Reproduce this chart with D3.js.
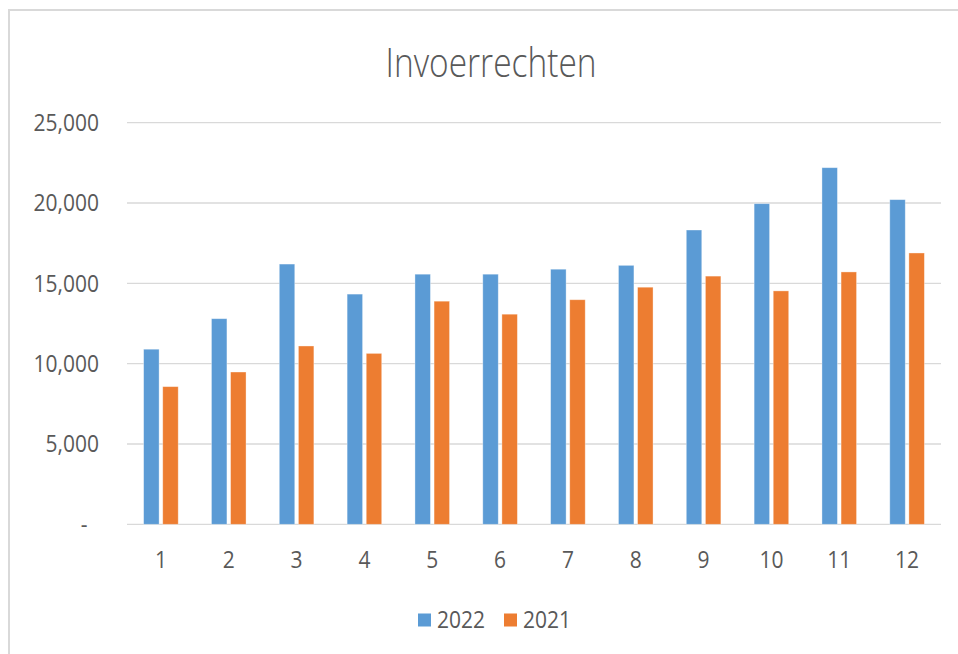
<!DOCTYPE html>
<html>
<head>
<meta charset="utf-8">
<script src="https://cdn.jsdelivr.net/npm/d3@7/dist/d3.min.js"></script>
<style>
  html, body { margin: 0; padding: 0; background: #fff; }
  svg { display: block; }
  text { font-family: "Open Sans", "Noto Sans", sans-serif; fill: #595959; }
</style>
</head>
<body>
<svg id="chart" width="958" height="654"></svg>
<script>
const months = ["1","2","3","4","5","6","7","8","9","10","11","12"];
const seriesNames = ["2022","2021"];
const values2022 = [10900, 12800, 16200, 14330, 15570, 15570, 15880, 16120, 18320, 19960, 22200, 20210];
const values2021 = [8570, 9480, 11100, 10640, 13890, 13080, 13980, 14760, 15450, 14530, 15710, 16890];
const yTicks = [0, 5000, 10000, 15000, 20000, 25000];
const colors = ["#5B9BD5", "#ED7D31"];
const titleText = "Invoerrechten";

const svg = d3.select("#chart");
const W = 958, H = 654;
const plot = { left: 127, right: 941, top: 122.7, bottom: 524.3 };

// frame
svg.append("path")
  .attr("d", `M9,${H} L9,10 L${W},10`)
  .attr("fill", "none").attr("stroke", "#D9D9D9").attr("stroke-width", 2);

const x = d3.scaleBand().domain(months).range([plot.left, plot.right])
  .paddingInner(0.49).paddingOuter(0.245);
const x1 = d3.scaleBand().domain(seriesNames).range([0, x.bandwidth()]).paddingInner(0.19);
const y = d3.scaleLinear().domain([0, 25000]).range([plot.bottom, plot.top]);

// gridlines
svg.append("g").selectAll("line").data(yTicks).join("line")
  .attr("x1", plot.left).attr("x2", plot.right)
  .attr("y1", d => y(d)).attr("y2", d => y(d))
  .attr("stroke", "#D9D9D9").attr("stroke-width", 1.3);

// y labels
const fmt = d3.format(",");
const sy = 1.12;
svg.append("g").selectAll("text").data(yTicks).join("text")
  .attr("transform", d => d === 0 ? `translate(84,${y(d)}) scale(1,${sy})` : `translate(99,${y(d)}) scale(1,${sy})`)
  .attr("text-anchor", d => d === 0 ? "middle" : "end")
  .attr("dy", "0.35em")
  .attr("font-size", 21)
  .text(d => d === 0 ? "-" : fmt(d));

// bars
const data = months.map((m, i) => ({ m, vals: [values2022[i], values2021[i]] }));
const groups = svg.append("g").selectAll("g").data(data).join("g")
  .attr("transform", d => `translate(${x(d.m)},0)`);
groups.selectAll("rect").data(d => d.vals.map((v, j) => ({ s: seriesNames[j], v, j })))
  .join("rect")
  .attr("x", d => x1(d.s))
  .attr("width", x1.bandwidth())
  .attr("y", d => y(d.v))
  .attr("height", d => y(0) - y(d.v))
  .attr("fill", d => colors[d.j])
  .attr("stroke", "#fff").attr("stroke-opacity", 0.45).attr("stroke-width", 0.8);

// x labels
svg.append("g").selectAll("text").data(months).join("text")
  .attr("transform", d => `translate(${x(d) + x.bandwidth() / 2},568) scale(1,${sy})`)
  .attr("text-anchor", "middle")
  .attr("font-size", 21)
  .text(d => d);

// title
svg.append("text")
  .attr("transform", `translate(491,76.5) scale(1,1.18)`)
  .attr("text-anchor", "middle")
  .attr("font-size", 33.5)
  .attr("font-weight", 300)
  .text(titleText);

// legend
const legX = [418, 504];
const leg = svg.append("g").selectAll("g").data(seriesNames).join("g")
  .attr("transform", (d, i) => `translate(${legX[i]},0)`);
leg.append("rect").attr("x", 0).attr("y", 613.5).attr("width", 13).attr("height", 13)
  .attr("fill", (d, i) => colors[i]);
leg.append("text")
  .attr("transform", `translate(19,628) scale(1,${sy})`)
  .attr("font-size", 21)
  .text(d => d);
</script>
</body>
</html>
